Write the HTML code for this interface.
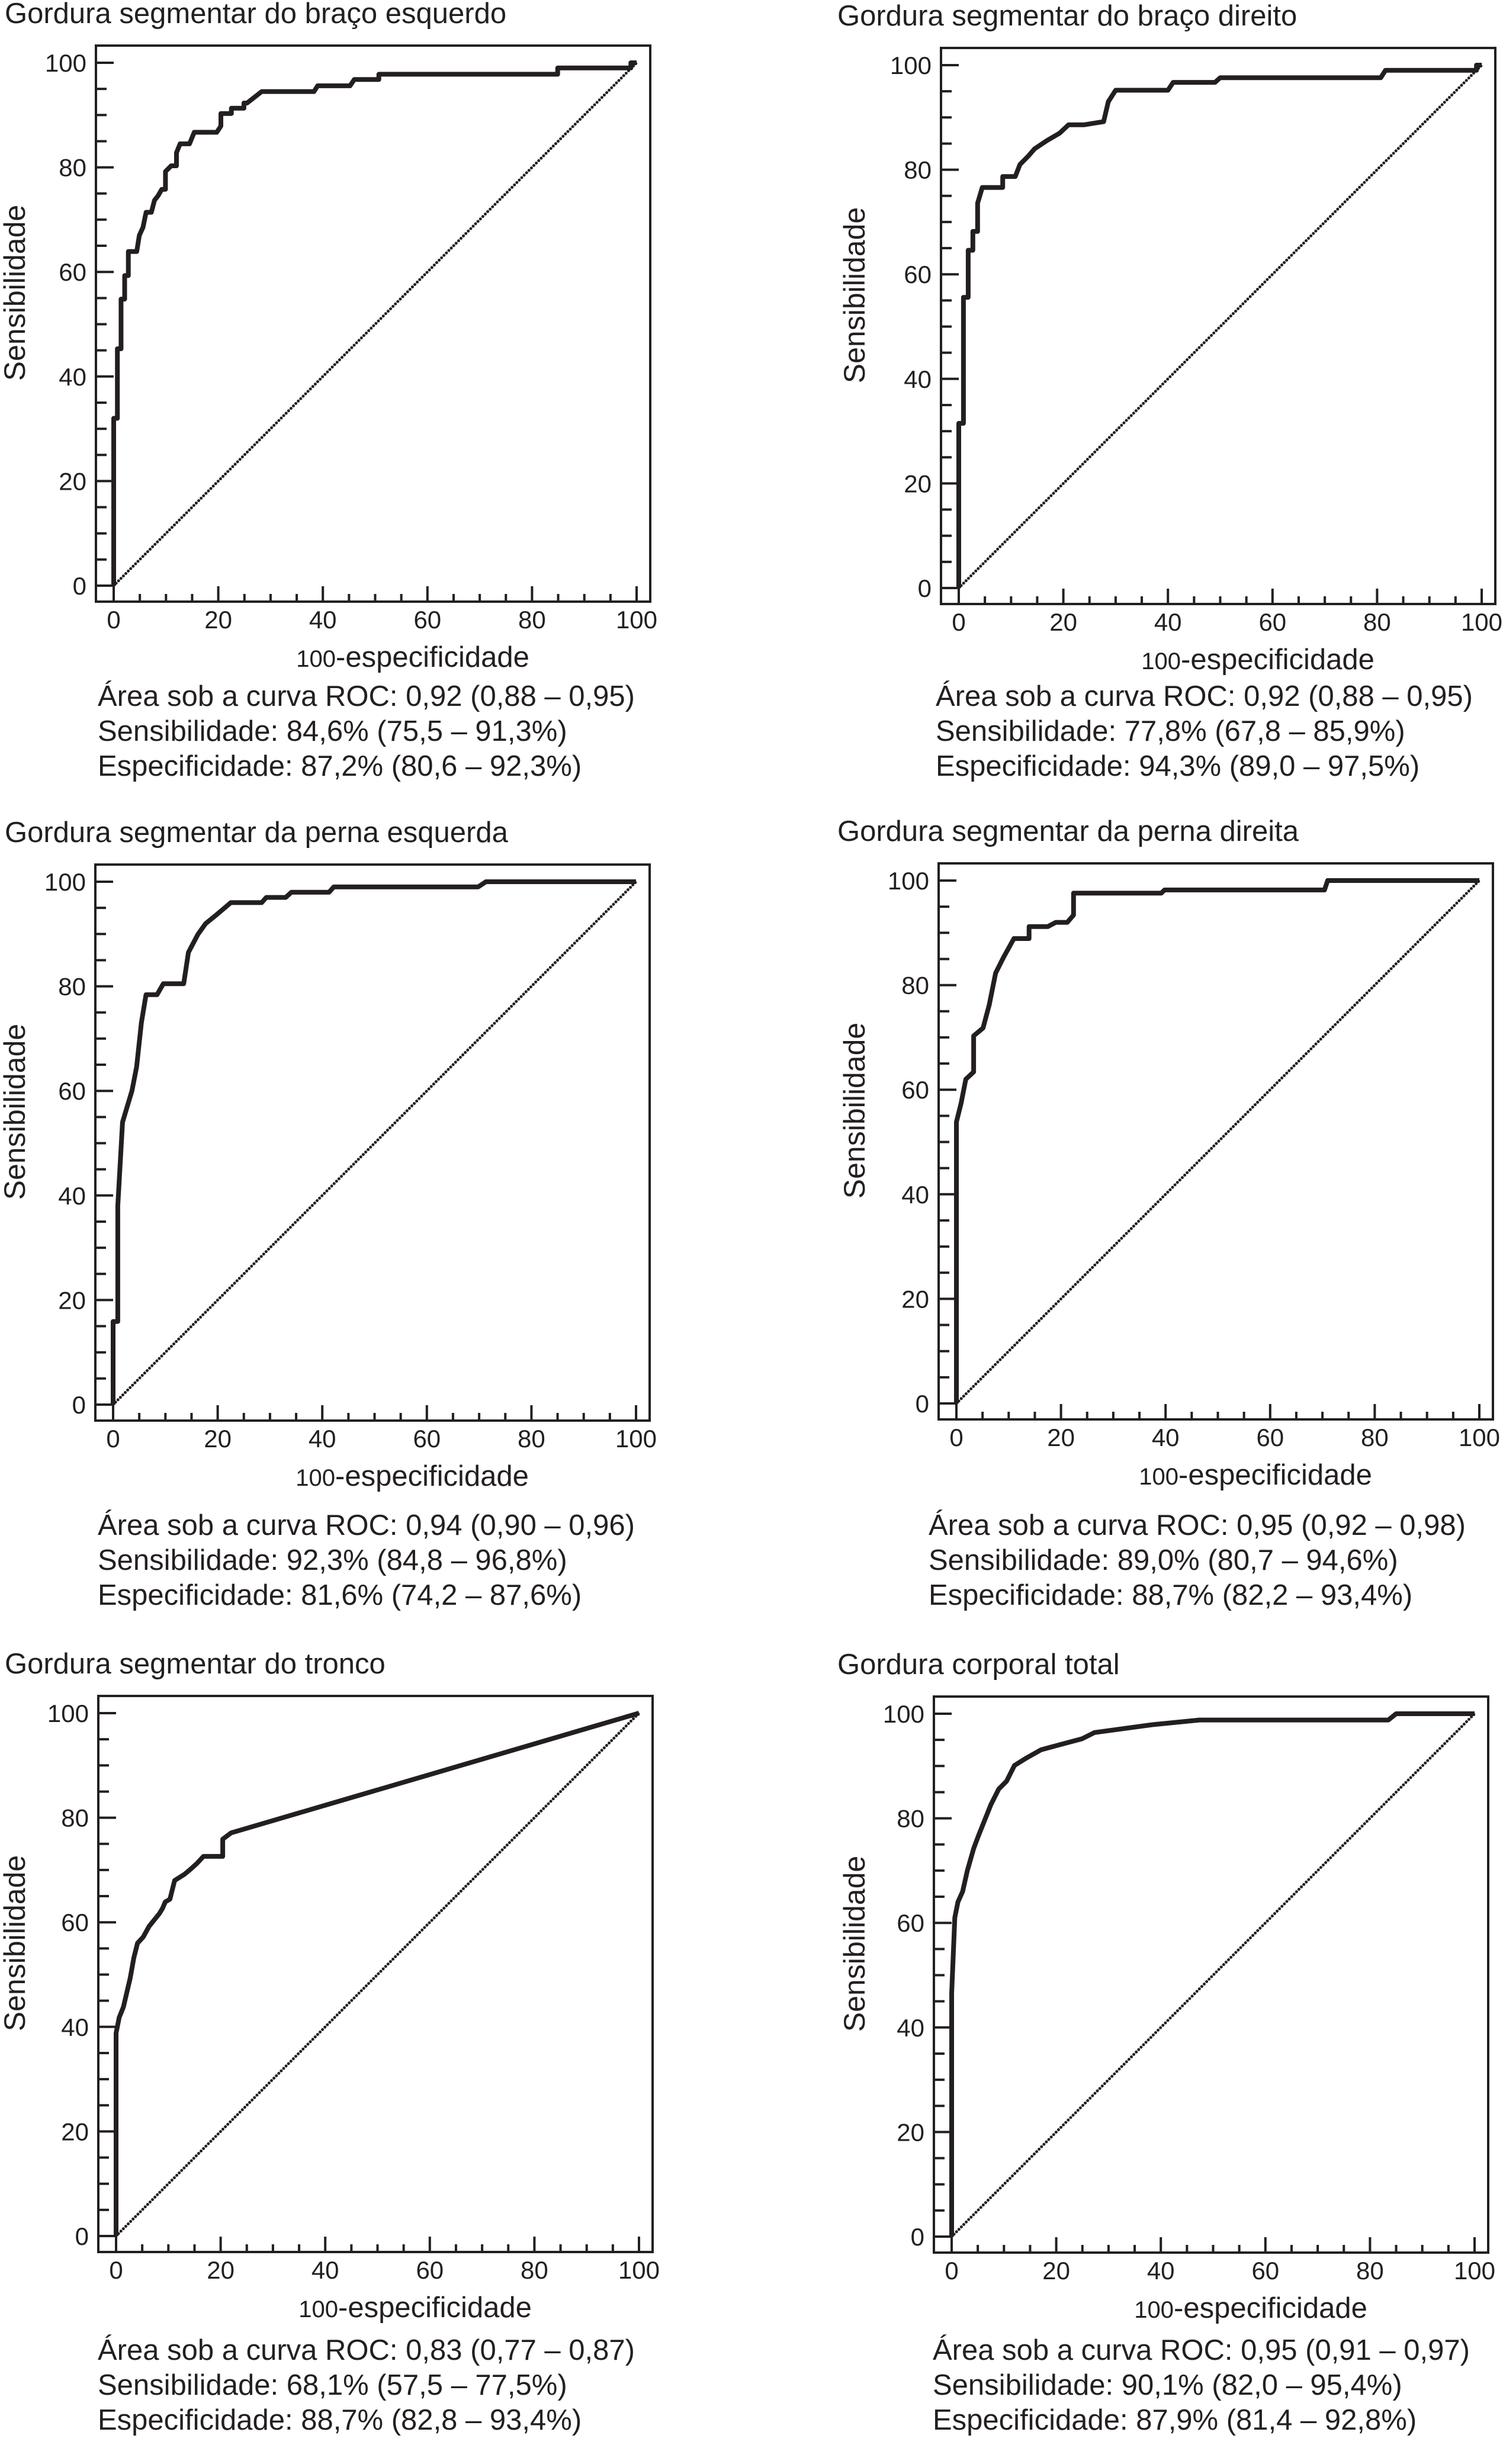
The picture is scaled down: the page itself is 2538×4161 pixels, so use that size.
<!DOCTYPE html>
<html><head><meta charset="utf-8"><style>
html,body{margin:0;padding:0;background:#fff;}
svg text{font-family:"Liberation Sans",Arial,sans-serif;fill:#231f20;}
</style></head><body>
<svg id="fig" xmlns="http://www.w3.org/2000/svg" width="2538" height="4156" viewBox="0 0 2538 4156"></svg>
<script>
const titles = ["Gordura segmentar do braço esquerdo","Gordura segmentar do braço direito","Gordura segmentar da perna esquerda","Gordura segmentar da perna direita","Gordura segmentar do tronco","Gordura corporal total"];
const statsArea = ["Área sob a curva ROC: 0,92 (0,88 – 0,95)","Área sob a curva ROC: 0,92 (0,88 – 0,95)","Área sob a curva ROC: 0,94 (0,90 – 0,96)","Área sob a curva ROC: 0,95 (0,92 – 0,98)","Área sob a curva ROC: 0,83 (0,77 – 0,87)","Área sob a curva ROC: 0,95 (0,91 – 0,97)"];
const statsSens = ["Sensibilidade: 84,6% (75,5 – 91,3%)","Sensibilidade: 77,8% (67,8 – 85,9%)","Sensibilidade: 92,3% (84,8 – 96,8%)","Sensibilidade: 89,0% (80,7 – 94,6%)","Sensibilidade: 68,1% (57,5 – 77,5%)","Sensibilidade: 90,1% (82,0 – 95,4%)"];
const statsSpec = ["Especificidade: 87,2% (80,6 – 92,3%)","Especificidade: 94,3% (89,0 – 97,5%)","Especificidade: 81,6% (74,2 – 87,6%)","Especificidade: 88,7% (82,2 – 93,4%)","Especificidade: 88,7% (82,8 – 93,4%)","Especificidade: 87,9% (81,4 – 92,8%)"];
const xTicks = [0,20,40,60,80,100];
const yTicks = [0,20,40,60,80,100];
// ROC curves: false positive rate (100-especificidade) and sensitivity
const fpr1 = [0,0,0.7,0.7,1.4,1.4,2.1,2.1,2.8,2.8,4.4,4.9,5.6,6.2,7.2,7.8,8.5,9.2,9.9,9.9,11,12,12,12.7,14.5,15.4,19.7,20.5,20.5,22.5,22.5,24.9,24.9,25.5,28.3,38.3,39,45.2,46,50.7,50.7,84.9,84.9,98.9,98.9,100];
const tpr1 = [0,32,32,45.3,45.3,54.8,54.8,59.3,59.3,63.9,63.9,67,68.5,71.4,71.4,73.7,74.6,75.8,75.8,79.2,80.3,80.3,82.8,84.5,84.5,86.7,86.7,87.9,90.3,90.3,91.3,91.3,92.3,92.3,94.5,94.5,95.6,95.6,96.8,96.8,97.8,97.8,99,99,100,100];
const fpr2 = [0,0,0.9,0.9,1.8,1.8,2.7,2.7,3.6,3.6,4.5,8.4,8.4,10.8,11.7,13.3,14.5,16.9,19.3,21,24,27.7,28.6,30,40,41,49,50,80.7,81.6,99,99,100];
const tpr2 = [0,31.5,31.5,55.6,55.6,64.6,64.6,68.2,68.2,73.6,76.6,76.6,78.7,78.7,81,82.6,84,85.6,87,88.6,88.6,89.2,93,95.2,95.2,96.7,96.7,97.6,97.6,99,99,100,100];
const fpr3 = [0,0,0.9,0.9,1.8,2.7,3.6,4.5,5.4,6.3,8.4,9.6,13.5,14.4,16.2,17.7,19.8,22.5,28.4,29.3,33,34.1,41.3,42.2,69.8,71.3,100];
const tpr3 = [0,15.9,15.9,38,54,57,60,64.6,73,78.4,78.4,80.5,80.5,86.5,89.9,92,93.7,96,96,97,97,98,98,99,99,100,100];
const fpr4 = [0,0,0.9,1.8,3.3,3.3,5.1,6.3,7.5,9,11,13.8,13.9,13.9,17.5,19,21.2,22.4,22.4,39.2,39.8,70.4,71,100];
const tpr4 = [0,53.8,57.4,62,63.4,70.3,71.8,76.3,82.3,85.3,88.9,88.9,88.9,91.2,91.2,92,92,93.4,97.6,97.6,98.2,98.2,100,100];
const fpr5 = [0,0,0.6,1.4,2.7,3.4,4.1,5.2,6.3,8.3,8.9,9.4,10.3,11.2,13.1,14.4,15.5,16.7,20.4,20.4,22,100];
const tpr5 = [0,38.8,41.8,43.8,49.3,53.2,56,57.2,59.2,61.7,62.7,63.9,64.4,68,69.2,70.3,71.3,72.6,72.6,75.9,77.1,100];
const fpr6 = [0,0,0.6,1.2,2.1,3,4.2,5.1,6.3,7.5,9,10.5,12,14.4,17.1,20.4,24.9,27.3,38.4,47.4,83.5,85,100];
const tpr6 = [0,46.5,61,64,66,70,74.2,76.6,79.6,82.6,85.6,87.1,90.1,91.6,93.1,94,95.2,96.4,97.9,98.8,98.8,100,100];
const fprs = [fpr1,fpr2,fpr3,fpr4,fpr5,fpr6];
const tprs = [tpr1,tpr2,tpr3,tpr4,tpr5,tpr6];

const NS = "http://www.w3.org/2000/svg";
const svg = document.getElementById('fig');
const U = 8.83;
const origins = [[192,989],[1619,993],[191,2372],[1615,2370],[196,3776],[1607,3777]];
const titleX = [8,1414,8,1414,8,1414];
const statX = [165,1580,165,1568,165,1575];
const statY = [1192,1192,2592,2592,3985,3985];
function mk(tag, attrs, parent){const e=document.createElementNS(NS,tag);for(const k in attrs)e.setAttribute(k,attrs[k]);(parent||svg).appendChild(e);return e;}

for(let p=0;p<6;p++){
  const [x0,y0]=origins[p];
  const sx=v=>x0+v*U, sy=v=>y0-v*U;
  const g=mk('g',{});
  
  
  const t=mk('text',{x:titleX[p],y:sy(100)-67,'font-size':49},g);
  t.textContent=titles[p];
  
  
  const bl=x0-30, br=x0+100*U+23, bt=sy(100)-29, bb=y0+27;
  const box=mk('rect',{x:bl,y:bt,width:br-bl,height:bb-bt,fill:'none',stroke:'#231f20','stroke-width':4},g);
  
  
  for(let v=0;v<=100;v+=5){
    const major=v%20===0;
    const yt=mk('line',{x1:bl,x2:bl+(major?30:18),y1:sy(v),y2:sy(v),stroke:'#231f20','stroke-width':4},g);
    
    
    const xt=mk('line',{x1:sx(v),x2:sx(v),y1:bb,y2:bb-(major?26:13),stroke:'#231f20','stroke-width':4},g);
    
    
  }
  yTicks.forEach(v=>{const l=mk('text',{x:bl-16,y:sy(v)+15,'font-size':42,'text-anchor':'end'},g);l.textContent=v;
    
    });
  xTicks.forEach(v=>{const l=mk('text',{x:sx(v),y:y0+72,'font-size':42,'text-anchor':'middle'},g);l.textContent=v;
    
    });
  const xl=mk('text',{x:sx(57.2),y:y0+137,'font-size':49,'text-anchor':'middle'},g);
  xl.innerHTML='<tspan font-size="40">100</tspan>-especificidade';
  
  
  const yx=(p%2===0)?42:1460;
  const yl=mk('text',{x:yx,y:sy(56),'font-size':50,'text-anchor':'middle',transform:`rotate(-90 ${yx} ${sy(56)})`},g);
  yl.textContent='Sensibilidade';
  
  
  const diag=mk('line',{x1:sx(0),y1:sy(0),x2:sx(100),y2:sy(100),stroke:'#231f20','stroke-width':5,'stroke-linecap':'round','stroke-dasharray':'0 5.8'},g);
  
  
  const pts=fprs[p].map((f,i)=>sx(f).toFixed(1)+','+sy(tprs[p][i]).toFixed(1)).join(' ');
  const c=mk('polyline',{points:pts,fill:'none',stroke:'#231f20','stroke-width':8,'stroke-linejoin':'round'},g);
  
  
  [statsArea[p],statsSens[p],statsSpec[p]].forEach((s,i)=>{
    const st=mk('text',{x:statX[p],y:statY[p]+i*59,'font-size':49},g);st.textContent=s;
    
    
  });
}
</script>
</body></html>
